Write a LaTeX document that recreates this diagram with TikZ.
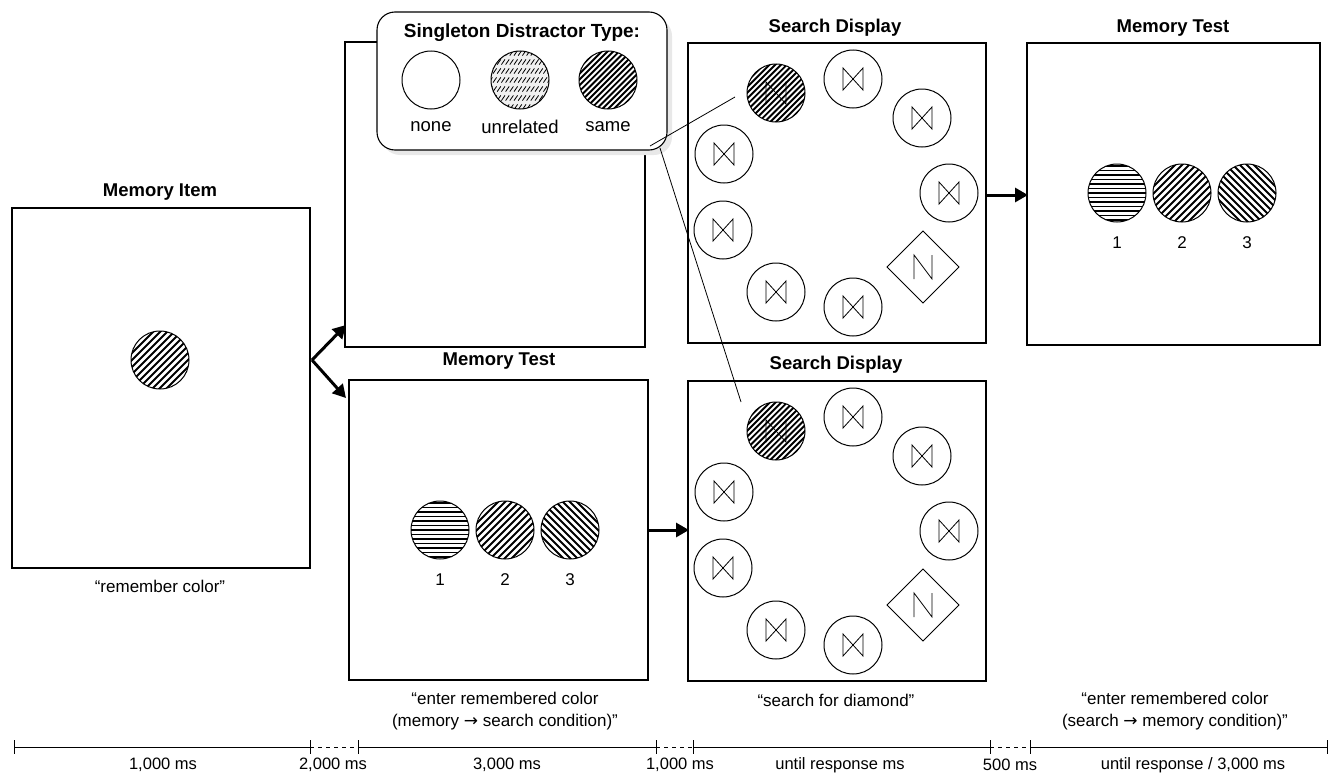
\documentclass[tikz,border=0pt]{standalone}
\usepackage{fontspec}
\setmainfont{Liberation Sans}
\newfontfamily\dejavu{DejaVu Sans}
\usetikzlibrary{arrows.meta,shapes.geometric}
\begin{document}
\begin{tikzpicture}[x=1pt,y=-1pt,
  every node/.style={inner sep=0pt,outer sep=0pt},
  frame/.style={draw,line width=1.1pt,fill=white,anchor=north west},
  title/.style={font=\fontsize{18.5}{20}\selectfont\bfseries},
  lbl/.style={font=\fontsize{17}{22}\selectfont,align=center},
  tlbl/.style={font=\fontsize{16.5}{20}\selectfont},
  disc/.style={circle,draw,line width=1pt,minimum size=58pt},
  % #1: slope (1 = "/", -1 = "\", 0 = horizontal), #2: vertical spacing, #3: line width
  hatch/.style n args={3}{path picture={
    \begin{scope}[shift={(path picture bounding box.center)}]
      \foreach \j in {-22,...,22} \draw[line width=#3] (-40,{\j*#2+40*#1}) -- (40,{\j*#2-40*#1});
    \end{scope}}},
  unrel/.style={fill=gray!12,path picture={
    \begin{scope}[shift={(path picture bounding box.center)}]
      \foreach \r in {-3,...,3} \foreach \c in {-9,...,9}
        \draw[line width=0.8pt] ({\c*4.2-1.8},{\r*9+2.6}) -- ({\c*4.2+1.8},{\r*9-2.6});
    \end{scope}}},
  bowtie/.pic={\draw[line width=0.8pt] (-10,-11) -- (10,11) -- (10,-11) -- (-10,11) -- cycle;},
  nshape/.pic={\draw[line width=0.8pt] (-9,12) -- (-9,-12) -- (9,12) -- (9,-12);},
  bigarrow/.style={line width=3pt,-{Triangle[length=13pt,width=14pt]}},
  thin/.style={line width=0.8pt}
]
\useasboundingbox (0,0) rectangle (1334,779);

% ---------- Memory item ----------
\node[frame,minimum width=298pt,minimum height=360pt] (memitem) at (12,208) {};
\node[title] (memitemT) at (160,192) {Memory Item};
\node[disc,hatch={1}{7}{1.8pt}] (memdisc) at (160,360) {};
\node[lbl] (remember) at (160,586) {“remember color”};

% ---------- Middle boxes ----------
\node[frame,minimum width=300pt,minimum height=305pt] (blank) at (345,42) {};
\node[frame,minimum width=299pt,minimum height=300pt] (mtest1) at (349,380) {};
\node[title] (mtest1T) at (499,361) {Memory Test};
\node[disc,hatch={0}{4.5}{1.8pt}] (m1a) at (440,530) {};
\node[disc,hatch={1}{7}{2pt}] (m1b) at (505,530) {};
\node[disc,hatch={-1}{7}{2pt}] (m1c) at (570,530) {};
\node[lbl] at (440,580) {1};
\node[lbl] at (505,580) {2};
\node[lbl] at (570,580) {3};
\node[lbl] (enter1) at (505,711) {“enter remembered color\\(memory {\dejavu →} search condition)”};

% fork arrows
\coordinate (fork) at (312,360);
\coordinate (forkup) at (346,325);
\coordinate (forkdn) at (346,398);
\draw[bigarrow] (fork) -- (forkup);
\draw[bigarrow] (fork) -- (forkdn);

% ---------- Search displays ----------
\foreach \nm/\oy in {top/43,bot/381}{
  \begin{scope}[shift={(688,\oy)}]
    \node[frame,minimum width=298pt,minimum height=300pt] (sd\nm) at (0,0) {};
    \node[disc,hatch={1}{5.8}{1.9pt}] (sing\nm) at (88,50) {};
    \pic at (88,50) {bowtie};
    \node[disc] (a\nm) at (165,36) {}; \pic at (165,36) {bowtie};
    \node[disc] (b\nm) at (234,75) {}; \pic at (234,75) {bowtie};
    \node[disc] (c\nm) at (261,150) {}; \pic at (261,150) {bowtie};
    \node[diamond,draw,line width=1pt,minimum size=72pt] (d\nm) at (235,224) {};
    \pic at (235,224) {nshape};
    \node[disc] (e\nm) at (165,264) {}; \pic at (165,264) {bowtie};
    \node[disc] (f\nm) at (88,249) {}; \pic at (88,249) {bowtie};
    \node[disc] (g\nm) at (35,187) {}; \pic at (35,187) {bowtie};
    \node[disc] (h\nm) at (36,111) {}; \pic at (36,111) {bowtie};
  \end{scope}
}
\node[title] (sdtopT) at (835,28) {Search Display};
\node[title] (sdbotT) at (836,365) {Search Display};
\node[lbl] (searchfor) at (836,700) {“search for diamond”};

% arrow memory test -> search display
\coordinate (a1s) at (649,530);
\coordinate (a1e) at (689,530);
\draw[bigarrow] (a1s) -- (a1e);

% ---------- Memory test (right) ----------
\node[frame,minimum width=293pt,minimum height=302pt] (mtest2) at (1027,43) {};
\node[title] (mtest2T) at (1173,28) {Memory Test};
\node[disc,hatch={0}{4.5}{1.8pt}] (m2a) at (1117,193) {};
\node[disc,hatch={1}{7}{2pt}] (m2b) at (1182,193) {};
\node[disc,hatch={-1}{7}{2pt}] (m2c) at (1247,193) {};
\node[lbl] at (1117,243) {1};
\node[lbl] at (1182,243) {2};
\node[lbl] at (1247,243) {3};
\node[lbl] (enter2) at (1175,711) {“enter remembered color\\(search {\dejavu →} memory condition)”};
\coordinate (a2s) at (986,195);
\coordinate (a2e) at (1028,195);
\draw[bigarrow] (a2s) -- (a2e);

% ---------- Callout ----------
\fill[gray!18,rounded corners=18pt] (382,18) rectangle (672,155);
\node[draw,line width=1.1pt,fill=white,rounded corners=18pt,minimum width=290pt,minimum height=138pt,anchor=north west] (callout) at (377,12) {};
\node[font=\fontsize{19}{22}\selectfont\bfseries] (calloutT) at (522,33) {Singleton Distractor Type:};
\node[disc] (none) at (431,80) {};
\node[disc,unrel] (unrelated) at (520,80) {};
\node[disc,hatch={1}{5.8}{1.9pt}] (same) at (608,80) {};
\node[font=\fontsize{18.5}{22}\selectfont] at (431,127) {none};
\node[font=\fontsize{18.5}{22}\selectfont] at (520,127) {unrelated};
\node[font=\fontsize{18.5}{22}\selectfont] at (608,127) {same};
\coordinate (c1) at (650,146);
\coordinate (c1e) at (735,97);
\coordinate (c2) at (660,148);
\coordinate (c2e) at (741,402);
\draw[thin] (c1) -- (c1e);
\draw[thin] (c2) -- (c2e);

% ---------- Timeline ----------
\foreach \n/\x in {0/14,1/310,2/358,3/656,4/693,5/990,6/1030,7/1327}{
  \coordinate (t\n) at (\x,747);
  \draw[line width=1pt] (\x,740) -- (\x,754);
}
\draw[line width=1pt] (t0) -- (t1) (t2) -- (t3) (t4) -- (t5) (t6) -- (t7);
\draw[line width=1pt,dash pattern=on 4pt off 4pt] (t1) -- (t2) (t3) -- (t4) (t5) -- (t6);
\node[tlbl] at (163,765) {1,000 ms};
\node[tlbl] at (333,765) {2,000 ms};
\node[tlbl] at (507,765) {3,000 ms};
\node[tlbl] at (680,765) {1,000 ms};
\node[tlbl] at (840,765) {until response ms};
\node[tlbl] at (1010,765) {500 ms};
\node[tlbl] at (1193,765) {until response / 3,000 ms};
\end{tikzpicture}
\end{document}
